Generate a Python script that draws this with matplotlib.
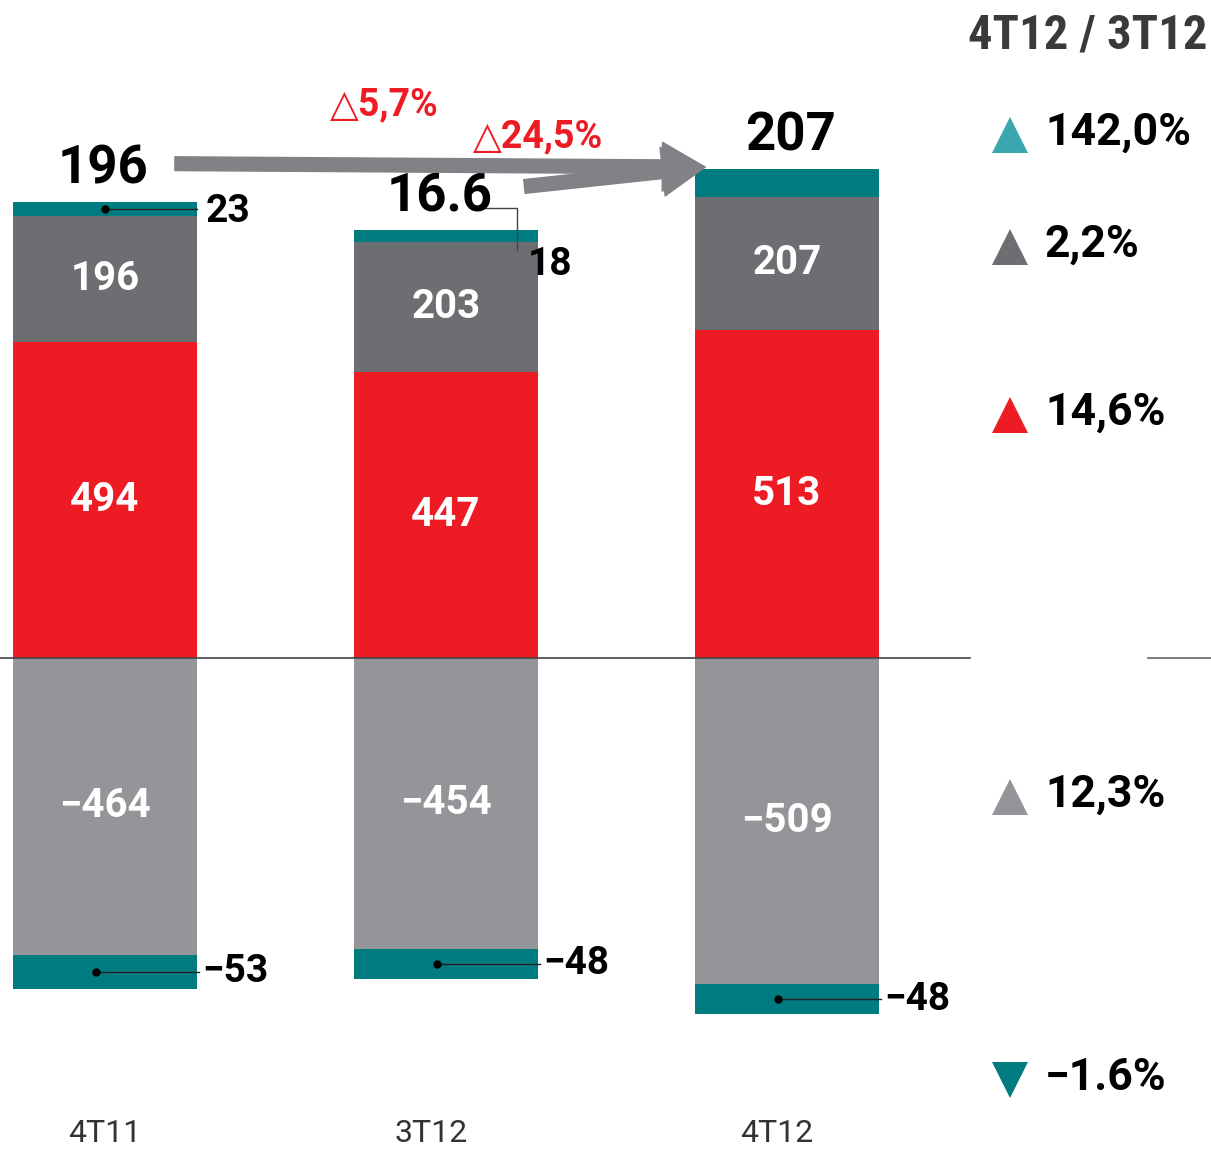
import matplotlib
matplotlib.use('Agg')
import matplotlib.pyplot as plt
from matplotlib import font_manager as fm

installed = {f.name for f in fm.fontManager.ttflist}
MAIN = 'Roboto' if 'Roboto' in installed else 'DejaVu Sans'
HEAD = 'Roboto Condensed' if 'Roboto Condensed' in installed else MAIN
plt.rcParams['font.family'] = [MAIN, 'DejaVu Sans']

# data
categories = ['4T11', '3T12', '4T12']
red_vals = [494, 447, 513]
dgray_vals = [196, 203, 207]
teal_top = [23, 18, 44]
lgray_vals = [-464, -454, -509]
teal_bottom = [-53, -48, -48]
total_labels = ['196', '16.6', '207']
change_labels = ['142,0%', '2,2%', '14,6%', '12,3%', '\u22121.6%']
arrow_labels = ['\u25b35,7%', '\u25b324,5%']

TEAL = '#007b7f'
DGRAY = '#6d6e72'
RED = '#ed1c24'
LGRAY = '#939598'
ARROW = '#808285'

W, H = 1211, 1152
PXU = 1 / 0.64  # data units per pixel (vertical)
fig = plt.figure(figsize=(W / 100, H / 100), dpi=100)
ax = fig.add_axes([0, 0, 1, 1])
ax.set_xlim(-105 / 341, (W - 105) / 341)
ax.set_ylim(-(H - 658) * PXU, 658 * PXU)
ax.axis('off')

x = list(range(len(categories)))
bw = 0.54

# positive stack
ax.bar(x, red_vals, bw, color=RED)
ax.bar(x, dgray_vals, bw, bottom=red_vals, color=DGRAY)
tops_base = [r + d for r, d in zip(red_vals, dgray_vals)]
ax.bar(x, teal_top, bw, bottom=tops_base, color=TEAL)
# negative stack
ax.bar(x, lgray_vals, bw, color=LGRAY)
ax.bar(x, teal_bottom, bw, bottom=lgray_vals, color=TEAL)

tops = [b + t for b, t in zip(tops_base, teal_top)]

# zero line
ax.plot([-105 / 341, (970 - 105) / 341], [0, 0], color='#444444', lw=1.2)
ax.plot([(1148 - 105) / 341, (W - 105) / 341], [0, 0], color='#666666', lw=1.2)

# labels inside segments
for i in x:
    ax.text(i, red_vals[i] / 2, str(red_vals[i]), color='white', ha='center', va='center',
            fontsize=29, fontweight='bold')
    ax.text(i, red_vals[i] + dgray_vals[i] / 2, str(dgray_vals[i]), color='white', ha='center',
            va='center', fontsize=29, fontweight='bold')
    ax.text(i, lgray_vals[i] / 2, '\u2212' + str(-lgray_vals[i]), color='white', ha='center',
            va='center', fontsize=29, fontweight='bold')

# bottom teal leaders
for i in x:
    yc = lgray_vals[i] + teal_bottom[i] / 2
    ax.plot([i - 0.025, i + bw / 2 + 0.005], [yc, yc], color='#222222', lw=1)
    ax.plot(i - 0.025, yc, 'o', color='black', ms=5)
    ax.text(i + bw / 2 + 0.015, yc, '\u2212' + str(-teal_bottom[i]), ha='left', va='center',
            fontsize=28, fontweight='bold')

# 4T11 top teal leader
yc = tops_base[0] + teal_top[0] / 2
ax.plot([0, bw / 2], [yc, yc], color='#222222', lw=1)
ax.plot(0, yc, 'o', color='black', ms=5)
ax.text(bw / 2 + 0.025, yc - 2 * PXU, str(teal_top[0]), ha='left', va='center',
        fontsize=28, fontweight='bold')

# 3T12 top teal leader
xl = 1 + bw / 2 - 0.062
ax.plot([1.1, xl, xl], [tops[1] + 22 * PXU, tops[1] + 22 * PXU, tops[1] - 20 * PXU],
        color='#444444', lw=1)
ax.text(1 + bw / 2 - 0.03, tops[1] - 34 * PXU, str(teal_top[1]), ha='left', va='center',
        fontsize=28, fontweight='bold')

# totals above bars
tot_dx = [-0.005, -0.02, 0.01]
for i in x:
    ax.text(i + tot_dx[i], tops[i] + 33 * PXU, total_labels[i], ha='center', va='center',
            fontsize=38, fontweight='bold', color='black')

# arrows to 4T12
end = (2 - bw / 2 + 0.03, tops[2] + 2 * PXU)
starts = [(0.205, tops[0] + 38 * PXU), (1.23, tops[1] + 44 * PXU)]
for s in starts:
    ax.annotate('', xy=end, xytext=s,
                arrowprops=dict(arrowstyle='simple,head_width=1.6,head_length=1.4,tail_width=0.45',
                                mutation_scale=22, color=ARROW, shrinkA=0, shrinkB=0))

ax.text(0.66, tops[0] + 97 * PXU, arrow_labels[0], color=RED, ha='left', va='center',
        fontsize=27, fontweight='bold')
ax.text(1.08, tops[1] + 94 * PXU, arrow_labels[1], color=RED, ha='left', va='center',
        fontsize=27, fontweight='bold')

# category labels
cat_dx = [0.0, -0.045, -0.03]
for i in x:
    ax.text(i + cat_dx[i], -(1133 - 658) * PXU, categories[i], ha='center', va='center',
            fontsize=23, color='#333333')

# right-hand comparison column
fig.text(1088 / W, 1 - 35 / H, '4T12 / 3T12', ha='center', va='center', fontsize=35,
         fontweight='bold', color='#3a3a3a', family=[HEAD, 'DejaVu Sans'])
leg_y = [133, 245, 413, 795, 1078]
leg_col = ['#3aa6ad', DGRAY, RED, LGRAY, TEAL]
leg_mk = ['^', '^', '^', '^', 'v']
for yy, lab, c, m in zip(leg_y, change_labels, leg_col, leg_mk):
    fig.lines.append(plt.Line2D([1010 / W], [1 - (yy + 2) / H], marker=m, color=c, ms=26,
                                mew=0, transform=fig.transFigure))
    fig.text(1045 / W, 1 - yy / H, lab, ha='left', va='center', fontsize=32,
             fontweight='bold', color='black')

fig.savefig('out.png', dpi=100)
